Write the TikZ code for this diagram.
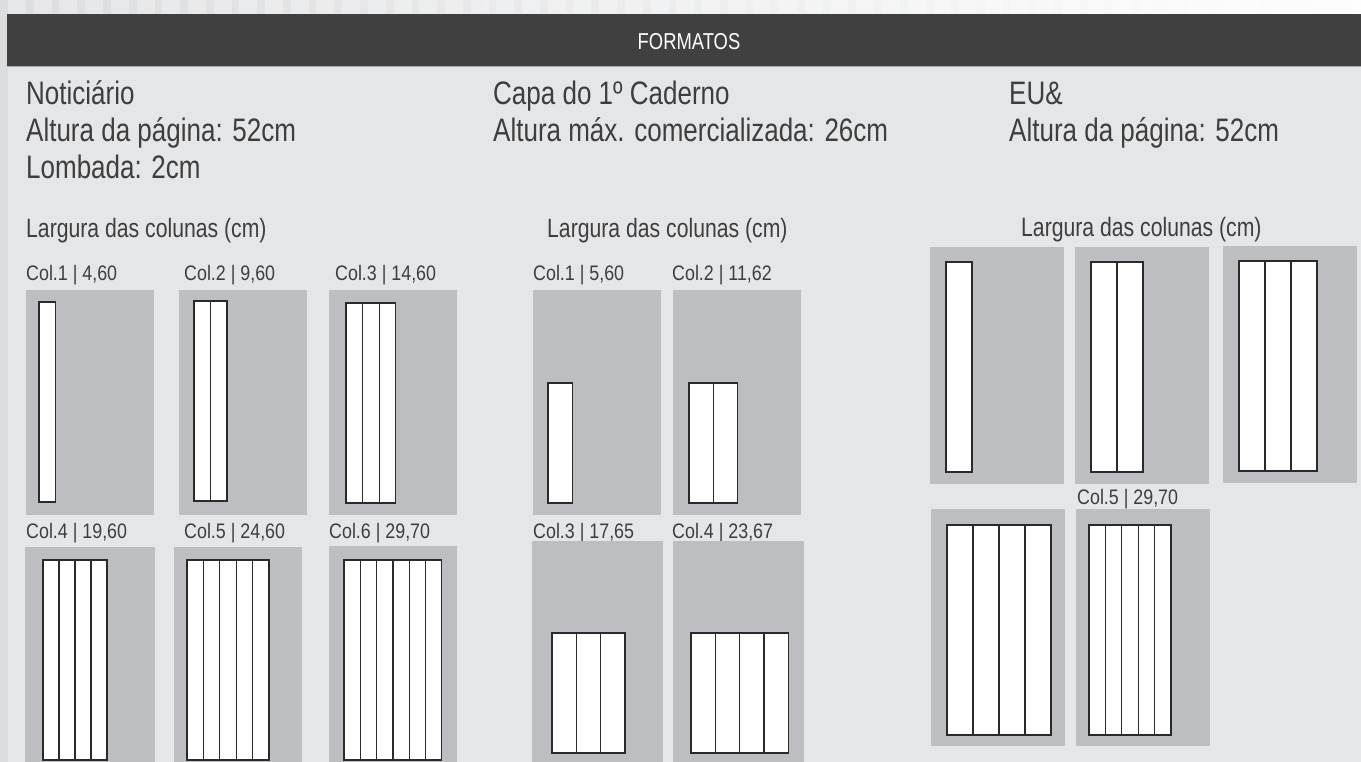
\documentclass[tikz,border=0pt]{standalone}
\usepackage{fontspec}
\setmainfont{Liberation Sans}[FakeStretch=0.8]
\newfontfamily\labelfont{Liberation Sans}[FakeStretch=0.85]
\usepackage{tikz}
\usetikzlibrary{positioning}

\definecolor{pagebg}{HTML}{E5E6E8}
\definecolor{edgebg}{HTML}{DCDDDF}
\definecolor{barbg}{HTML}{404040}
\definecolor{sheetgray}{HTML}{BDBEC2}
\definecolor{inkgray}{HTML}{3E3E3E}
\definecolor{lineink}{HTML}{2A2A2A}

\begin{document}
\begin{tikzpicture}[x=1pt, y=-1pt]
    \tikzstyle{title} = [anchor=base west, inner sep=0pt, text=inkgray, font=\fontsize{32.5}{37}\selectfont]
    \tikzstyle{subtitle} = [anchor=base west, inner sep=0pt, text=inkgray, font=\fontsize{26.5}{30}\selectfont]
    \tikzstyle{collabel} = [anchor=base west, inner sep=0pt, text=inkgray, font=\labelfont\fontsize{21}{24}\selectfont]
    \tikzstyle{sheet} = [fill=sheetgray]
    \tikzstyle{colstrip} = [draw=lineink, fill=white, line width=1.2pt]

    \useasboundingbox (0,0) rectangle (1361,762);
    \fill[pagebg] (0,0) rectangle (1361,762);
    \fill[edgebg] (0,0) rectangle (8,762);
    % strip on top
    \shade[left color=edgebg, right color=white!95!pagebg] (8,0) rectangle (1361,14);
    \foreach \i in {0,...,52}
        \fill[white, opacity=0.3] ({8+\i*25.7},0) rectangle ++(18,14);

    % header bar
    \fill[barbg] (7,14) rectangle (1361,66);
    \draw[gray!70, line width=1pt] (7,66.5) -- (1361,66.5);
    \node [anchor=base, inner sep=0pt, text=white, font=\fontsize{23}{26}\selectfont] (head) at (689,50) {FORMATOS};

    % three formats
    \node [title] (noti1) at (26,105) {Noticiário};
    \node [title, below=37pt of noti1.base west, anchor=base west] (noti2) {Altura da página: 52cm};
    \node [title, below=37pt of noti2.base west, anchor=base west] (noti3) {Lombada: 2cm};
    \node [title] (capa1) at (493,105) {Capa do 1º Caderno};
    \node [title, below=37pt of capa1.base west, anchor=base west] (capa2) {Altura máx. comercializada: 26cm};
    \node [title] (eu1) at (1009,105) {EU\&};
    \node [title, below=37pt of eu1.base west, anchor=base west] (eu2) {Altura da página: 52cm};

    \node [subtitle] (notiw) at (26,238) {Largura das colunas (cm)};
    \node [subtitle] (capaw) at (547,238) {Largura das colunas (cm)};
    \node [subtitle] (euw) at (1021,237) {Largura das colunas (cm)};

    % column labels
    \node [collabel] (nc1) at (26,281) {Col.1 | 4,60};
    \node [collabel] (nc2) at (184,281) {Col.2 | 9,60};
    \node [collabel] (nc3) at (335,281) {Col.3 | 14,60};
    \node [collabel] (nc4) at (26,538) {Col.4 | 19,60};
    \node [collabel] (nc5) at (184,538) {Col.5 | 24,60};
    \node [collabel] (nc6) at (329,538) {Col.6 | 29,70};
    \node [collabel] (cc1) at (533,281) {Col.1 | 5,60};
    \node [collabel] (cc2) at (672,281) {Col.2 | 11,62};
    \node [collabel] (cc3) at (533,538) {Col.3 | 17,65};
    \node [collabel] (cc4) at (672,538) {Col.4 | 23,67};
    \node [collabel] (ec5) at (1077,504) {Col.5 | 29,70};

    % gray pages
    \foreach \xa/\ya/\xb/\yb in {26/290/154/515, 179/290/307/515, 329/290/457/515,
            25/547/155/762, 174/547/302/762, 329/546/457/762,
            533/290/661/515, 673/290/801/515, 532/541/663/762, 673/541/804/762,
            930/247/1064/484, 1075/247/1209/484, 1223/246/1357/483,
            931/509/1065/746, 1076/509/1210/746}
        \fill[sheet] (\xa,\ya) rectangle (\xb,\yb);

    % columns
    \foreach \xa/\ya/\yb/\n/\cw in {39/302/502/1/16.4, 194/301/501/2/16.5, 346/303/503/3/16.6,
            43/560/760/4/16, 187/560/760/5/16.4, 344/560/760/6/16.3,
            548/383/503/1/24.5, 689/383/503/2/24.2, 552/633/753/3/24.3, 691/633/753/4/24.3,
            946/262/472/1/26, 1091/262/472/2/26, 1239/261/471/3/26,
            947/525/735/4/26, 1089/525/735/5/16.4}
        \foreach \i in {1,...,\n}
            \draw[colstrip] ({\xa+(\i-1)*\cw},\ya) rectangle ++(\cw,{\yb-\ya});
\end{tikzpicture}
\end{document}
